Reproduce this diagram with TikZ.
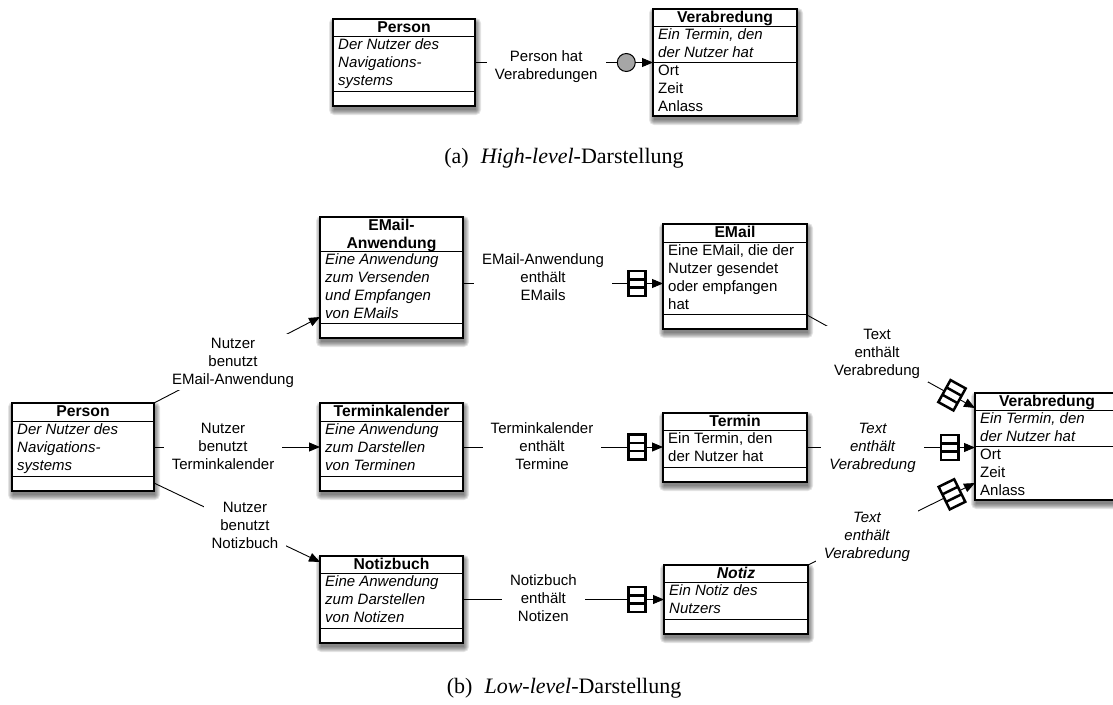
\documentclass[tikz,border=0pt]{standalone}
\usepackage{fontspec}
\setmainfont{Liberation Sans}
\newfontfamily\capfont{Liberation Serif}
\usetikzlibrary{arrows.meta,fit,shapes.multipart}

% strut: 13pt above, 5pt below the baseline (one 18pt text row)
\newcommand{\ls}{\rule[-5pt]{0pt}{18pt}}
\newcommand{\dfont}{\fontsize{15}{18}\selectfont}
\newcommand{\tfont}{\fontsize{15.7}{18}\selectfont}

\tikzset{
  classbox/.style={draw, line width=1.3pt, fill=white, inner sep=0pt, outer sep=0pt},
  shadowlayer/.style={fill=black, opacity=0.1},
  sepline/.style={line width=1pt},
  ctitle/.style={inner sep=0pt, anchor=north, align=center, font=\tfont\bfseries},
  cbody/.style={inner sep=0pt, anchor=north west, align=left, font=\dfont},
  ital/.style={font=\dfont\itshape},
  lbl/.style={fill=white, inner xsep=8pt, inner ysep=1pt, align=center, font=\dfont},
  conn/.style={line width=0.9pt, -{Triangle[length=11pt,width=9pt]}},
  circ/.style={circle, draw, line width=1pt, fill=black!35, minimum size=18pt, inner sep=0pt},
  agg/.style={rectangle split, rectangle split parts=3, draw, line width=2.5pt, fill=white,
    sloped, inner xsep=0pt, inner ysep=0.3pt,
    rectangle split empty part height=2.2pt, rectangle split empty part depth=0pt,
    rectangle split empty part width=12pt},
  caption/.style={font=\capfont\fontsize{22}{26}\selectfont, inner sep=0pt}
}

% class box: name, left, top, right, first separator, second separator, bottom
\newcommand{\classbox}[7]{%
  \foreach \r in {0,1,2,3,4,5}
    \fill[shadowlayer, rounded corners=\r pt] (#2+1-\r, #3+4-\r) rectangle (#4+1+\r, #7+4+\r);
  \node[classbox, fit={(#2,#3) (#4,#7)}] (#1) {};
  \coordinate (#1-s1) at (#2,#5);
  \coordinate (#1-s2) at (#2,#6);
  \draw[sepline] (#2,#5) -- (#4,#5);
  \draw[sepline] (#2,#6) -- (#4,#6);
}
% class texts: [description style] name, title, description, attributes
\newcommand{\classtext}[5][]{%
  \node[ctitle] (#2-title) at (#2.north) {#3};
  \node[cbody, #1] (#2-desc) at ([xshift=5pt]#2-s1) {#4};
  \node[cbody] (#2-attr) at ([xshift=5pt]#2-s2) {#5};
}

\begin{document}
\begin{tikzpicture}[x=1pt, y=-1pt]
\useasboundingbox (0,0) rectangle (1113,704);

% ---------- (a) high-level view ----------
\classbox{pA}{333}{19}{475}{36}{91}{106}
\classtext[ital]{pA}{\ls Person}{\ls Der Nutzer des\\\ls Navigations-\\\ls systems}{\ls}
\classbox{vA}{653}{9}{797}{26}{62}{116}
\classtext[ital]{vA}{\ls Verabredung}{\ls Ein Termin, den\\\ls der Nutzer hat}{\ls Ort\\\ls Zeit\\\ls Anlass}

\draw[conn] (pA.east) -- node[lbl, pos=0.40, yshift=-4pt] (l1) {\ls Person hat\\\ls Verabredungen}
  node[circ, pos=0.85] (c1) {} (vA.west);

\node[caption] (capA) at (564,158) {(a)\hspace{0.55em}\textit{High-level}-Darstellung};

% ---------- (b) low-level view ----------
\classbox{pB}{12}{403}{154}{421}{476}{491}
\classtext[ital]{pB}{\ls Person}{\ls Der Nutzer des\\\ls Navigations-\\\ls systems}{\ls}

\classbox{eA}{320}{217}{463}{251}{323}{338}
\classtext[ital]{eA}{\ls EMail-\\\ls Anwendung}{\ls Eine Anwendung\\\ls zum Versenden\\\ls und Empfangen\\\ls von EMails}{\ls}

\classbox{tK}{320}{403}{463}{421}{476}{491}
\classtext[ital]{tK}{\ls Terminkalender}{\ls Eine Anwendung\\\ls zum Darstellen\\\ls von Terminen}{\ls}

\classbox{nB}{320}{556}{463}{573}{628}{643}
\classtext[ital]{nB}{\ls Notizbuch}{\ls Eine Anwendung\\\ls zum Darstellen\\\ls von Notizen}{\ls}

\classbox{eM}{663}{224}{807}{242}{314}{329}
\classtext{eM}{\ls EMail}{\ls Eine EMail, die der\\\ls Nutzer gesendet\\\ls oder empfangen\\\ls hat}{\ls}

\classbox{tM}{663}{413}{807}{430}{467}{482}
\classtext{tM}{\ls Termin}{\ls Ein Termin, den\\\ls der Nutzer hat}{\ls}

\classbox{nZ}{664}{565}{808}{582}{619}{634}
\classtext[ital]{nZ}{\itshape\ls Notiz}{\ls Ein Notiz des\\\ls Nutzers}{\ls}

\classbox{vB}{975}{393}{1119}{410}{446}{500}
\classtext[ital]{vB}{\ls Verabredung}{\ls Ein Termin, den\\\ls der Nutzer hat}{\ls Ort\\\ls Zeit\\\ls Anlass}

% person uses the applications
\draw[conn] (pB.north east) -- node[lbl, pos=0.476] (l2) {\ls Nutzer\\\ls benutzt\\\ls EMail-Anwendung}
  ([yshift=21pt]eA.south west);
\draw[conn] (pB.east) -- node[lbl, pos=0.416] (l3) {\ls Nutzer\\\ls benutzt\\\ls Terminkalender}
  (tK.west);
\draw[conn] ([yshift=8pt]pB.south east) -- node[lbl, pos=0.548] (l4) {\ls Nutzer\\\ls benutzt\\\ls Notizbuch}
  ([yshift=-6pt]nB.north west);

% applications contain their items
\draw[conn] ([yshift=-6pt]eA.east) -- node[lbl, pos=0.40, yshift=5pt] (l5) {\ls EMail-Anwendung\\\ls enthält\\\ls EMails}
  node[agg, pos=0.87] (g5) {} ([yshift=-7pt]eM.west);
\draw[conn] (tK.east) -- node[lbl, pos=0.395] (l6) {\ls Terminkalender\\\ls enthält\\\ls Termine}
  node[agg, pos=0.87] (g6) {} (tK.east -| tM.west);
\draw[conn] (nB.east) -- node[lbl, pos=0.40] (l7) {\ls Notizbuch\\\ls enthält\\\ls Notizen}
  node[agg, pos=0.866] (g7) {} (nZ.west);

% texts contain appointments
\draw[conn] ([yshift=14pt]eM.south east) -- node[lbl, pos=0.417] (l8) {\ls Text\\\ls enthält\\\ls Verabredung}
  node[agg, pos=0.863] (g8) {} ([yshift=-15pt]vB.north west);
\draw[conn] (tM.east) -- node[lbl, pos=0.39, font=\dfont\itshape] (l9) {\ls Text\\\ls enthält\\\ls Verabredung}
  node[agg, pos=0.85] (g9) {} (tM.east -| vB.west);
\draw[conn] (nZ.north east) -- node[lbl, pos=0.353, font=\dfont\itshape] (l10) {\ls Text\\\ls enthält\\\ls Verabredung}
  node[agg, pos=0.862] (g10) {} ([yshift=17pt]vB.south west);

\node[caption] (capB) at (564,688) {(b)\hspace{0.55em}\textit{Low-level}-Darstellung};
\end{tikzpicture}
\end{document}
